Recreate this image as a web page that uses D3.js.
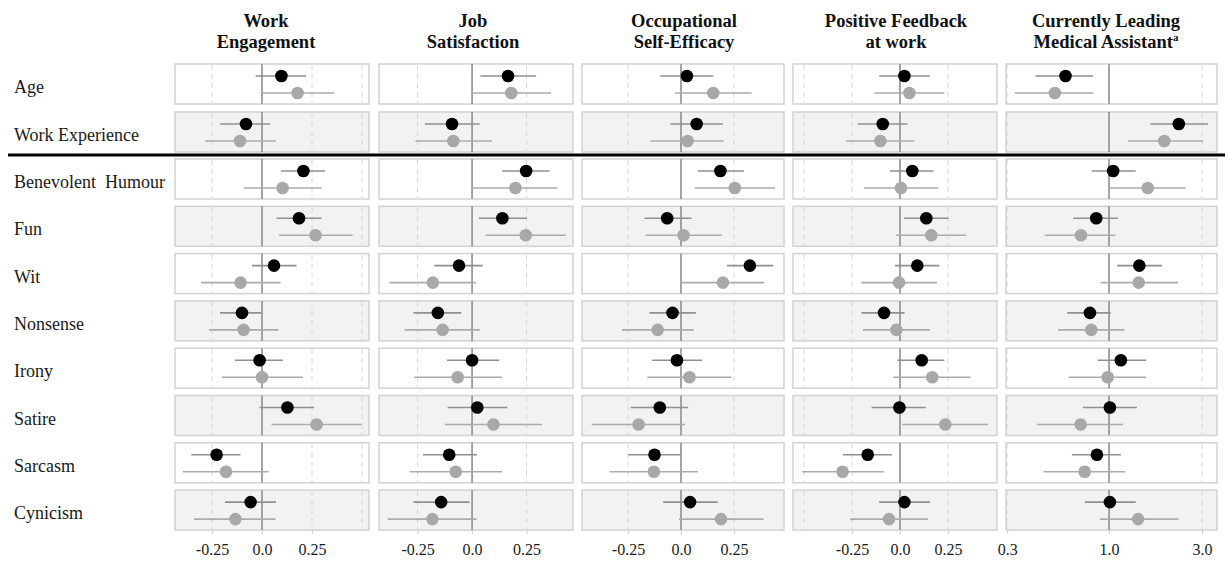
<!DOCTYPE html>
<html>
<head>
<meta charset="utf-8">
<script src="https://cdn.jsdelivr.net/npm/d3@7"></script>
<style>
  html, body { margin: 0; padding: 0; background: #fff; }
  svg { display: block; }
</style>
</head>
<body>
<svg id="chart" width="1225" height="561"></svg>
<script>
// ---------- DATA ----------
const rowLabels = ["Age", "Work Experience", "Benevolent\u00a0 Humour", "Fun", "Wit",
  "Nonsense", "Irony", "Satire", "Sarcasm", "Cynicism"];

const columnTitles = [
  ["Work", "Engagement"],
  ["Job", "Satisfaction"],
  ["Occupational", "Self-Efficacy"],
  ["Positive Feedback", "at work"],
  ["Currently Leading", "Medical Assistant"]
];

// [estimate, lower CI, upper CI] for each row, black series
const engagementBlack = [[0.097,-0.032,0.22],[-0.08,-0.21,0.04],[0.207,0.095,0.315],[0.185,0.073,0.298],[0.06,-0.05,0.173],[-0.1,-0.21,-0.005],[-0.012,-0.135,0.105],[0.127,-0.013,0.26],[-0.227,-0.353,-0.107],[-0.057,-0.185,0.07]];
const engagementGray  = [[0.178,-0.007,0.362],[-0.11,-0.285,0.07],[0.103,-0.09,0.298],[0.268,0.085,0.453],[-0.107,-0.305,0.093],[-0.092,-0.265,0.082],[0.0,-0.2,0.205],[0.273,0.048,0.498],[-0.18,-0.395,0.033],[-0.133,-0.34,0.068]];

const satisfactionBlack = [[0.165,0.038,0.294],[-0.092,-0.217,0.035],[0.248,0.138,0.356],[0.139,0.031,0.252],[-0.06,-0.173,0.049],[-0.157,-0.269,-0.05],[0.0,-0.115,0.125],[0.024,-0.112,0.162],[-0.105,-0.225,0.023],[-0.142,-0.269,-0.012]];
const satisfactionGray  = [[0.18,0.0,0.362],[-0.086,-0.26,0.092],[0.199,0.0,0.391],[0.246,0.061,0.43],[-0.18,-0.379,0.017],[-0.135,-0.309,0.035],[-0.066,-0.266,0.138],[0.098,-0.124,0.321],[-0.075,-0.286,0.138],[-0.182,-0.387,0.02]];

const efficacyBlack = [[0.028,-0.098,0.153],[0.074,-0.05,0.198],[0.186,0.079,0.297],[-0.065,-0.172,0.05],[0.325,0.217,0.435],[-0.04,-0.149,0.07],[-0.019,-0.136,0.1],[-0.1,-0.237,0.034],[-0.125,-0.249,0.0],[0.043,-0.084,0.173]];
const efficacyGray  = [[0.152,-0.028,0.333],[0.031,-0.144,0.201],[0.254,0.065,0.444],[0.012,-0.167,0.192],[0.198,0.003,0.393],[-0.11,-0.279,0.06],[0.04,-0.159,0.238],[-0.2,-0.421,0.019],[-0.128,-0.337,0.08],[0.189,-0.009,0.39]];

const feedbackBlack = [[0.023,-0.108,0.155],[-0.09,-0.22,0.038],[0.064,-0.052,0.175],[0.137,0.021,0.252],[0.09,-0.026,0.205],[-0.083,-0.201,0.024],[0.113,-0.014,0.231],[-0.003,-0.148,0.134],[-0.168,-0.297,-0.042],[0.023,-0.109,0.156]];
const feedbackGray  = [[0.049,-0.134,0.231],[-0.102,-0.28,0.075],[0.005,-0.188,0.2],[0.163,-0.021,0.345],[-0.005,-0.201,0.193],[-0.019,-0.193,0.155],[0.168,-0.035,0.368],[0.236,0.012,0.458],[-0.299,-0.51,-0.085],[-0.057,-0.259,0.146]];

// odds ratios (log scale)
const leadingBlack = [[0.598,0.419,0.83],[2.28,1.63,3.22],[1.05,0.814,1.37],[0.86,0.655,1.11],[1.43,1.10,1.87],[0.798,0.61,1.02],[1.15,0.874,1.55],[1.01,0.735,1.39],[0.867,0.645,1.15],[1.01,0.75,1.37]];
const leadingGray  = [[0.527,0.328,0.83],[1.92,1.25,3.04],[1.58,1.01,2.47],[0.718,0.468,1.08],[1.42,0.906,2.26],[0.811,0.548,1.20],[0.984,0.62,1.55],[0.715,0.428,1.18],[0.75,0.461,1.21],[1.41,0.899,2.27]];

const linearTicks = [-0.25, 0, 0.25];
const linearTickLabels = ["-0.25", "0.0", "0.25"];
const logTicks = [0.3, 1, 3];
const logTickLabels = ["0.3", "1.0", "3.0"];

// ---------- LAYOUT ----------
const panelX = [[175, 369], [379, 573], [582, 784], [793, 997], [1006, 1217]];
const domains = [[-0.435, 0.535], [-0.427, 0.463], [-0.467, 0.486], [-0.557, 0.505], [0.296, 3.58]];
const headerX = [266, 473, 684, 896, 1106];
const refValue = [0, 0, 0, 0, 1];
const gridVals = [[-0.25, 0.25, 0.5], [-0.25, 0.25], [-0.25, 0.25], [-0.5, -0.25, 0.25], [0.3, 3]];
const panelH = 40;
const rowTop = i => i < 2 ? 64 + 48 * i : 159 + (i - 2) * 47.3;

const serif = "'Liberation Serif', 'Times New Roman', serif";
const svg = d3.select("#chart");

const columns = [
  { black: engagementBlack, gray: engagementGray, log: false },
  { black: satisfactionBlack, gray: satisfactionGray, log: false },
  { black: efficacyBlack, gray: efficacyGray, log: false },
  { black: feedbackBlack, gray: feedbackGray, log: false },
  { black: leadingBlack, gray: leadingGray, log: true }
];

// headers
columnTitles.forEach((lines, c) => {
  const t = svg.append("text")
    .attr("text-anchor", "middle")
    .attr("font-family", serif)
    .attr("font-weight", "bold")
    .attr("font-size", 18.5)
    .attr("fill", "#111");
  lines.forEach((ln, k) => {
    const ts = t.append("tspan").attr("x", headerX[c]).attr("y", k === 0 ? 27 : 48).text(ln);
    if (c === 4 && k === 1) {
      ts.append("tspan").attr("font-size", 11).attr("dy", -7).text("a");
    }
  });
});

// row labels
rowLabels.forEach((lab, i) => {
  svg.append("text")
    .attr("x", 14)
    .attr("y", rowTop(i) + panelH / 2 + 9)
    .attr("font-family", serif)
    .attr("font-size", 18)
    .attr("fill", "#1a1a1a")
    .text(lab);
});

columns.forEach((col, c) => {
  const x = (col.log ? d3.scaleLog() : d3.scaleLinear())
    .domain(domains[c]).range(panelX[c]);
  const g = svg.append("g");

  rowLabels.forEach((_, i) => {
    const top = rowTop(i);
    const pg = g.append("g");
    pg.append("rect")
      .attr("x", panelX[c][0]).attr("y", top)
      .attr("width", panelX[c][1] - panelX[c][0]).attr("height", panelH)
      .attr("fill", i % 2 === 0 ? "#ffffff" : "#f2f2f2")
      .attr("stroke", "#d2d2d2").attr("stroke-width", 1.5);
    pg.selectAll("line.grid").data(gridVals[c]).join("line")
      .attr("class", "grid")
      .attr("x1", d => x(d)).attr("x2", d => x(d))
      .attr("y1", top + 1).attr("y2", top + panelH - 1)
      .attr("stroke", "#d6d6d6").attr("stroke-width", 1)
      .attr("stroke-dasharray", "5,4");
    pg.append("line")
      .attr("x1", x(refValue[c])).attr("x2", x(refValue[c]))
      .attr("y1", top).attr("y2", top + panelH)
      .attr("stroke", "#8f8f8f").attr("stroke-width", 1.6);

    const series = [
      { d: col.black[i], dy: 12, fill: "#000000", line: "#909090" },
      { d: col.gray[i], dy: 29, fill: "#a8a8a8", line: "#ababab" }
    ];
    series.forEach(s => {
      pg.append("line")
        .attr("x1", x(s.d[1])).attr("x2", x(s.d[2]))
        .attr("y1", top + s.dy).attr("y2", top + s.dy)
        .attr("stroke", s.line).attr("stroke-width", 1.6);
    });
    series.forEach(s => {
      pg.append("circle")
        .attr("cx", x(s.d[0])).attr("cy", top + s.dy).attr("r", 6.3)
        .attr("fill", s.fill);
    });
  });

  // bottom axis
  const axis = d3.axisBottom(x)
    .tickValues(col.log ? logTicks : linearTicks)
    .tickFormat((d, k) => (col.log ? logTickLabels : linearTickLabels)[k])
    .tickSizeInner(4).tickSizeOuter(0).tickPadding(10);
  const ag = svg.append("g")
    .attr("transform", `translate(0,${rowTop(9) + panelH})`)
    .call(axis);
  ag.select(".domain").remove();
  ag.selectAll(".tick line").attr("stroke", "#cfcfcf");
  ag.selectAll(".tick text")
    .attr("font-family", serif).attr("font-size", 16).attr("fill", "#1a1a1a");
});

// separator line
svg.append("line")
  .attr("x1", 8).attr("x2", 1225)
  .attr("y1", 155).attr("y2", 155)
  .attr("stroke", "#000").attr("stroke-width", 3);
</script>
</body>
</html>
